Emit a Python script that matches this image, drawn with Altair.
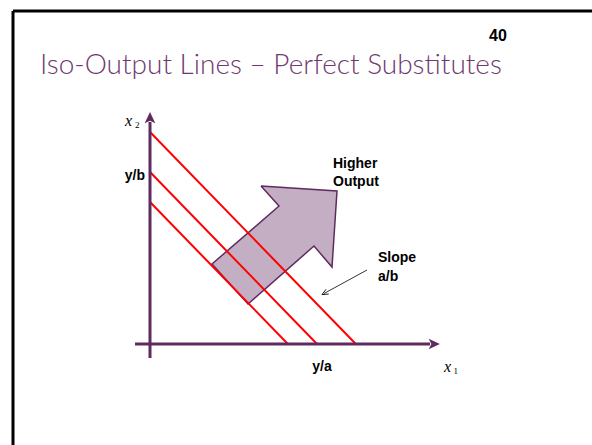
import altair as alt
import pandas as pd

# Production parameters: y = a*x1 + b*x2 (perfect substitutes)
a = 1.03
b = 1.0
output_levels = [14.2, 17.2, 21.2]

# Block arrow pointing toward higher output (x1, x2 units)
arrow_x = [11.1, 18.7, 18.2, 16.4, 9.8, 6.2, 12.9, 11.1]
arrow_y = [15.8, 15.3, 7.7, 9.8, 4.0, 8.0, 13.8, 15.8]

# Small pointer to the iso-output lines
pointer_x = [21.7, 17.4]
pointer_y = [7.4, 5.05]

X_DOM = [-15.0, 44.2]
Y_DOM = [-10.1, 34.4]
PURPLE = "#5f2b5f"
TITLE_PURPLE = "#6e3a6e"

xs = alt.Scale(domain=X_DOM, nice=False, zero=False)
ys = alt.Scale(domain=Y_DOM, nice=False, zero=False)


def X(field="x"):
    return alt.X(f"{field}:Q", scale=xs, axis=None)


def Y(field="y"):
    return alt.Y(f"{field}:Q", scale=ys, axis=None)


# iso-output lines
iso_rows = []
for i, yv in enumerate(output_levels):
    iso_rows.append({"line": i, "x": 0.0, "y": yv / b})
    iso_rows.append({"line": i, "x": yv / a, "y": 0.0})
iso = alt.Chart(pd.DataFrame(iso_rows)).mark_line(color="#ff0000", strokeWidth=2).encode(
    x=X(), y=Y(), detail="line:N"
)

# higher-output block arrow
arrow_df = pd.DataFrame({"x": arrow_x, "y": arrow_y, "o": range(len(arrow_x))})
block = alt.Chart(arrow_df).mark_line(
    fill="#c3aec3", stroke=PURPLE, strokeWidth=1.5, strokeJoin="miter"
).encode(x=X(), y=Y(), order="o:Q")

# coordinate axes
axes_df = pd.DataFrame({
    "x": [-1.5, 0.0], "x2": [28.0, 0.0],
    "y": [0.0, -1.4], "y2": [0.0, 22.2],
})
axes = alt.Chart(axes_df).mark_rule(color=PURPLE, strokeWidth=3).encode(
    x=X(), x2="x2:Q", y=Y(), y2="y2:Q"
)
heads_df = pd.DataFrame({"x": [28.4, 0.0], "y": [0.0, 22.6], "angle": [90, 0]})
heads = alt.Chart(heads_df).mark_point(
    shape="M0,-1 L0.9,0.9 L0,0.45 L-0.9,0.9 Z", filled=True, color=PURPLE,
    size=140, opacity=1
).encode(x=X(), y=Y(), angle=alt.Angle("angle:Q", scale=None))

# slope pointer
ptr_df = pd.DataFrame({"x": pointer_x, "y": pointer_y})
ptr = alt.Chart(ptr_df).mark_line(color="black", strokeWidth=0.8).encode(x=X(), y=Y())
ptr_head = alt.Chart(pd.DataFrame({"x": [pointer_x[1]], "y": [pointer_y[1]]})).mark_point(
    shape="M-0.7,1 L0,-0.6 L0.7,1", filled=False, color="black", strokeWidth=0.8,
    size=60, angle=241, opacity=1
).encode(x=X(), y=Y())

# slide frame
frame_df = pd.DataFrame({
    "x": [-13.7, -13.7], "x2": [44.2, -13.7],
    "y": [33.3, 33.3], "y2": [33.3, -10.1],
})
frame = alt.Chart(frame_df).mark_rule(color="black", strokeWidth=3).encode(
    x=X(), x2="x2:Q", y=Y(), y2="y2:Q"
)

# bold annotation labels
labels_df = pd.DataFrame({
    "x": [-0.5, 17.2, 18.3, 18.3, 22.8, 22.8],
    "y": [16.8, -2.3, 18.0, 16.2, 8.6, 6.7],
    "text": ["y/b", "y/a", "Higher", "Output", "Slope", "a/b"],
    "anchor": ["right", "center", "left", "left", "left", "left"],
})


def labels(anchor):
    sub = labels_df[labels_df["anchor"] == anchor]
    return alt.Chart(sub).mark_text(
        font="Liberation Sans", fontWeight="bold", fontSize=14, align=anchor, baseline="middle"
    ).encode(x=X(), y=Y(), text="text:N")


# axis variable names
var_df = pd.DataFrame({"x": [-1.8, 30.1], "y": [22.3, -2.3], "text": ["x", "x"]})
sub_df = pd.DataFrame({"x": [-1.05, 30.8], "y": [21.9, -2.7], "text": ["2", "1"]})
var_x = alt.Chart(var_df).mark_text(
    font="Liberation Serif", fontStyle="italic", fontSize=16, align="right", baseline="middle"
).encode(x=X(), y=Y(), text="text:N")
var_sub = alt.Chart(sub_df).mark_text(
    font="Liberation Serif", fontSize=9, align="right", baseline="middle"
).encode(x=X(), y=Y(), text="text:N")

# slide title and page number
title = alt.Chart(pd.DataFrame({"x": [-11.0], "y": [27.8], "text": ["Iso-Output Lines – Perfect Substitutes"]})).mark_text(
    font="Lato", fontWeight=300, fontSize=28, align="left", baseline="middle", color=TITLE_PURPLE
).encode(x=X(), y=Y(), text="text:N")
page = alt.Chart(pd.DataFrame({"x": [34.8], "y": [30.8], "text": ["40"]})).mark_text(
    font="Liberation Sans", fontWeight="bold", fontSize=16, align="center", baseline="middle", color="black"
).encode(x=X(), y=Y(), text="text:N")

chart = alt.layer(
    frame, block, iso, axes, heads, ptr, ptr_head,
    labels("right"), labels("center"), labels("left"), var_x, var_sub, title, page
).properties(
    width=592, height=445, padding=0, autosize=alt.AutoSizeParams(type="none"),
    background="white"
).configure_view(stroke=None)

chart.save("out.html", embed_options={"renderer": "svg", "actions": False})
